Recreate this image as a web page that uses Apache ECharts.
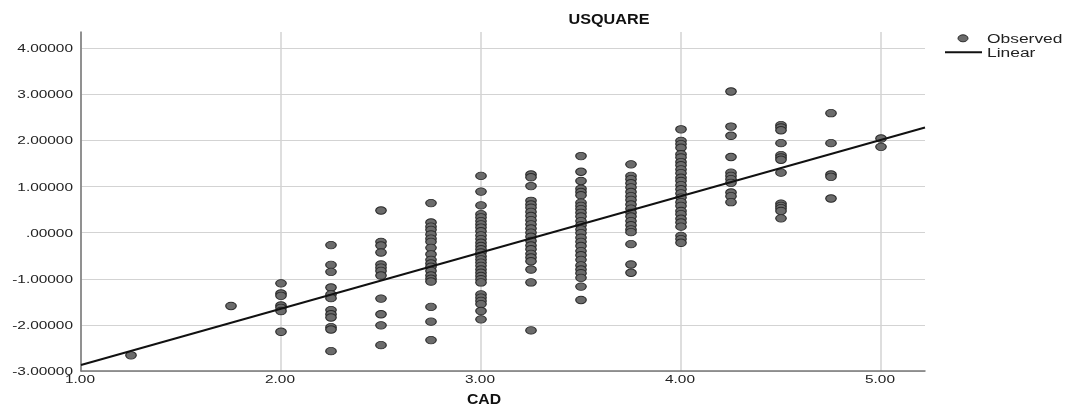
<!DOCTYPE html>
<html>
<head>
<meta charset="utf-8">
<script src="https://cdn.jsdelivr.net/npm/echarts@6/dist/echarts.min.js"></script>
<style>
html,body{margin:0;padding:0;background:#fff;}
#chart{width:1066px;height:412px;}
</style>
</head>
<body>
<div id="chart"></div>
<script>
// CAD category values (x) and observed USQUARE values (y) for each CAD level
var cadLevels = [1.25, 1.75, 2.0, 2.25, 2.5, 2.75, 3.0, 3.25, 3.5, 3.75, 4.0, 4.25, 4.5, 4.75, 5.0];
var obs125 = [-2.66];
var obs175 = [-1.59];
var obs200 = [-1.10, -1.32, -1.37, -1.58, -1.63, -1.70, -2.15];
var obs225 = [-0.27, -0.70, -0.85, -1.19, -1.34, -1.42, -1.68, -1.77, -1.84, -2.05, -2.10, -2.57];
var obs250 = [0.48, -0.20, -0.28, -0.43, -0.69, -0.76, -0.83, -0.93, -1.43, -1.77, -2.01, -2.44];
var obs275 = [0.64, 0.22, 0.13, 0.06, -0.04, -0.13, -0.20, -0.33, -0.47, -0.59, -0.67, -0.74, -0.83, -0.93, -1.00, -1.06, -1.61, -1.93, -2.33];
var obs300 = [1.23, 0.89, 0.59, 0.40, 0.33, 0.25, 0.18, 0.11, 0.03, -0.06, -0.14, -0.22, -0.29, -0.36, -0.43, -0.51, -0.58, -0.65, -0.72, -0.80, -0.87, -0.94, -1.01, -1.08, -1.34, -1.41, -1.48, -1.55, -1.70, -1.88];
var obs325 = [1.26, 1.20, 1.01, 0.69, 0.61, 0.54, 0.45, 0.36, 0.27, 0.18, 0.09, 0.00, -0.09, -0.18, -0.28, -0.36, -0.46, -0.54, -0.62, -0.80, -1.08, -2.12];
var obs350 = [1.66, 1.32, 1.12, 0.95, 0.88, 0.81, 0.65, 0.58, 0.51, 0.43, 0.35, 0.25, 0.16, 0.07, -0.01, -0.11, -0.20, -0.29, -0.40, -0.49, -0.59, -0.71, -0.80, -0.88, -0.98, -1.17, -1.46];
var obs375 = [1.48, 1.23, 1.16, 1.07, 0.98, 0.88, 0.79, 0.71, 0.61, 0.52, 0.43, 0.35, 0.25, 0.16, 0.07, 0.01, -0.25, -0.69, -0.87];
var obs400 = [2.24, 1.99, 1.92, 1.84, 1.70, 1.63, 1.53, 1.46, 1.37, 1.29, 1.19, 1.12, 1.03, 0.94, 0.85, 0.76, 0.66, 0.58, 0.47, 0.40, 0.30, 0.22, 0.13, -0.07, -0.14, -0.22];
var obs425 = [3.06, 2.30, 2.10, 1.64, 1.30, 1.23, 1.16, 1.08, 0.87, 0.79, 0.66];
var obs450 = [2.33, 2.28, 2.22, 1.94, 1.68, 1.63, 1.58, 1.30, 0.63, 0.58, 0.53, 0.47, 0.31];
var obs475 = [2.59, 1.94, 1.26, 1.21, 0.74];
var obs500 = [2.04, 1.86];
var observedByLevel = [obs125, obs175, obs200, obs225, obs250, obs275, obs300, obs325, obs350, obs375, obs400, obs425, obs450, obs475, obs500];

// Linear fit line end points
var fitX = [1.0, 5.22];
var fitY = [-2.87, 2.28];

// Tick labels
var xTicks = [1, 2, 3, 4, 5];
var xTickLabels = ['1.00', '2.00', '3.00', '4.00', '5.00'];
var yTicks = [-3, -2, -1, 0, 1, 2, 3, 4];
var yTickLabels = ['-3.00000', '-2.00000', '-1.00000', '.00000', '1.00000', '2.00000', '3.00000', '4.00000'];
var legendNames = ['Observed', 'Linear'];
var titleText = 'USQUARE';
var xAxisTitle = 'CAD';

var scatterData = [];
cadLevels.forEach(function (c, i) {
  observedByLevel[i].forEach(function (v) { scatterData.push([c, v]); });
});
var lineData = fitX.map(function (x, i) { return [x, fitY[i]]; });

var chart = echarts.init(document.getElementById('chart'), null, {renderer: 'canvas'});
var font = 'Liberation Sans, Arial, sans-serif';
var gridColor = '#d3d3d3';
chart.setOption({
  animation: false,
  backgroundColor: '#fff',
  grid: {left: 81, top: 32, right: 141, bottom: 41, containLabel: false},
  xAxis: {
    type: 'value', min: 1, max: 5.22, interval: 1,
    axisLine: {onZero: false, lineStyle: {color: '#777', width: 1.5}},
    axisTick: {show: false},
    axisLabel: {show: false},
    splitLine: {show: true, lineStyle: {color: [gridColor, gridColor, gridColor, gridColor, gridColor, 'rgba(0,0,0,0)'], width: 1.5}}
  },
  yAxis: {
    type: 'value', min: -3, max: 4.35, interval: 1,
    axisLine: {show: true, lineStyle: {color: '#777', width: 1.5}},
    axisTick: {show: false},
    axisLabel: {show: false},
    splitLine: {show: true, lineStyle: {color: [gridColor, gridColor, gridColor, gridColor, gridColor, gridColor, gridColor, gridColor, 'rgba(0,0,0,0)'], width: 1}}
  },
  series: [
    {
      name: legendNames[0], type: 'scatter', data: scatterData,
      symbol: 'circle', symbolSize: [10.5, 7.5],
      itemStyle: {color: '#6b6b6b', borderColor: '#2b2b2b', borderWidth: 1, opacity: 1},
      z: 3
    },
    {
      name: legendNames[1], type: 'line', data: lineData,
      symbol: 'none', lineStyle: {color: '#111', width: 2},
      z: 4
    }
  ]
});

// Text drawn with horizontal stretch (as in the reference), anchored via the chart's own scales
function px(x, y) { return chart.convertToPixel({xAxisIndex: 0, yAxisIndex: 0}, [x, y]); }
var graphics = [];
var bottomPx = px(1, -3)[1];
var leftPx = px(1, -3)[0];
yTicks.forEach(function (v, i) {
  var p = px(1, v);
  graphics.push({type: 'text', x: leftPx - 8, y: p[1] + 1, scaleX: 1.4, silent: true,
    style: {text: yTickLabels[i], align: 'right', verticalAlign: 'middle', font: '11px ' + font, fill: '#222'}});
});
xTicks.forEach(function (v, i) {
  var p = px(v, -3);
  graphics.push({type: 'text', x: p[0] - 1, y: bottomPx + 9, scaleX: 1.4, silent: true,
    style: {text: xTickLabels[i], align: 'center', verticalAlign: 'middle', font: '11px ' + font, fill: '#222'}});
});
graphics.push({type: 'text', x: 609, y: 20, scaleX: 1.08, silent: true,
  style: {text: titleText, align: 'center', verticalAlign: 'middle', font: 'bold 15px ' + font, fill: '#111'}});
graphics.push({type: 'text', x: 484, y: 400, scaleX: 1.05, silent: true,
  style: {text: xAxisTitle, align: 'center', verticalAlign: 'middle', font: 'bold 15px ' + font, fill: '#111'}});
// Legend
graphics.push({type: 'ellipse', shape: {cx: 963, cy: 38.3, rx: 5, ry: 3.5}, silent: true,
  style: {fill: '#6b6b6b', stroke: '#2b2b2b', lineWidth: 1}});
graphics.push({type: 'line', shape: {x1: 945, y1: 52.3, x2: 982, y2: 52.3}, silent: true,
  style: {stroke: '#111', lineWidth: 2}});
graphics.push({type: 'text', x: 987, y: 40, scaleX: 1.45, silent: true,
  style: {text: legendNames[0], align: 'left', verticalAlign: 'middle', font: '12px ' + font, fill: '#222'}});
graphics.push({type: 'text', x: 987, y: 53.5, scaleX: 1.45, silent: true,
  style: {text: legendNames[1], align: 'left', verticalAlign: 'middle', font: '12px ' + font, fill: '#222'}});
chart.setOption({graphic: graphics});
</script>
</body>
</html>
